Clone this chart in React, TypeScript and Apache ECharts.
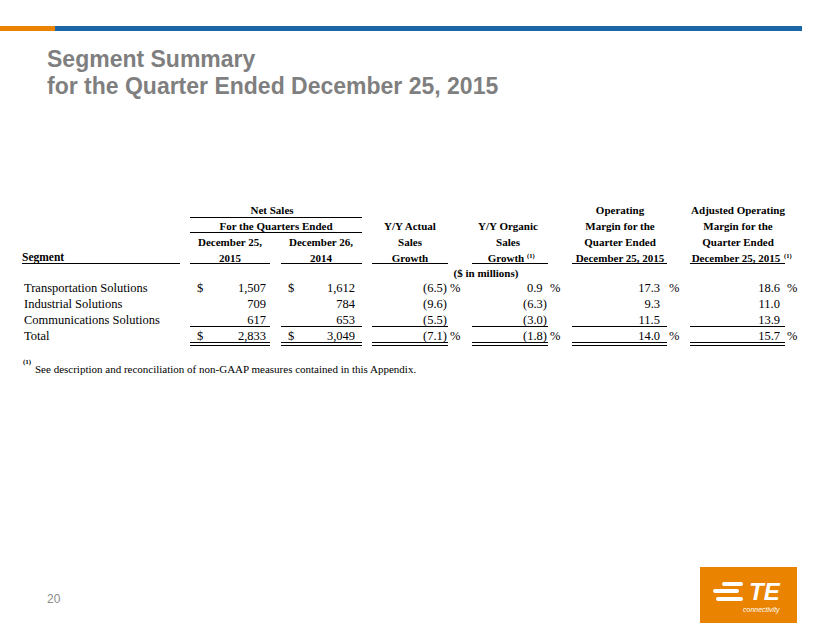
import React, { useEffect, useRef } from "react";
import * as echarts from "echarts";

// ---------- data ----------
const titleLines = ["Segment Summary", "for the Quarter Ended December 25, 2015"];
const pageNumber = "20";
const segments = ["Transportation Solutions", "Industrial Solutions", "Communications Solutions", "Total"];
const netSales2015 = [1507, 709, 617, 2833];
const netSales2014 = [1612, 784, 653, 3049];
const actualGrowth = [-6.5, -9.6, -5.5, -7.1];
const organicGrowth = [0.9, -6.3, -3.0, -1.8];
const operatingMargin = [17.3, 9.3, 11.5, 14.0];
const adjustedOperatingMargin = [18.6, 11.0, 13.9, 15.7];
const segmentHeader = "Segment";
const netSalesHeader = "Net Sales";
const quartersHeader = "For the Quarters Ended";
const unitsLabel = "($ in millions)";
const columnHeaders = [
  ["December 25,", "2015"],
  ["December 26,", "2014"],
  ["Y/Y Actual", "Sales", "Growth"],
  ["Y/Y Organic", "Sales", "Growth"],
  ["Operating", "Margin for the", "Quarter Ended", "December 25, 2015"],
  ["Adjusted Operating", "Margin for the", "Quarter Ended", "December 25, 2015"],
];
const columnFootnote = [false, false, false, true, false, true];
const footnoteMark = "(1)";
const footnoteText = "See description and reconciliation of non-GAAP measures contained in this Appendix.";
const logoText = "TE";
const logoSub = "connectivity";

// ---------- layout ----------
const SERIF = '"Liberation Serif", "Times New Roman", serif';
const SANS = '"Liberation Sans", Arial, sans-serif';
const ORANGE = "#E98300";
const BLUE = "#1a66a6";
const colLeft = [190, 281, 372, 472, 572, 690];
const colRight = [270, 362, 448, 548, 667, 785];
const headerCenter = [230, 321, 410, 508, 620, 738];
const lastHeaderCenter = [230, 321, 410, 506, 620, 736];
const supX = [0, 0, 0, 527, 0, 784];
const headerRowY = [210, 226, 242, 258];
const rowY = [288, 304, 320, 336];
const dollarX = [197, 288];
const numRight = [266, 355];
const pctNumRight = [447, 547, 660, 780];
const pctSignX = [450, 550, 669, 787];
const pctParenStyle = [true, true, false, false];

function fmtMoney(v: number) {
  return v.toLocaleString("en-US");
}

function buildGraphics() {
  const g: any[] = [];
  const text = (t: string, x: number, y: number, o: any = {}) => {
    const align = o.align || "left";
    g.push({
      type: "text",
      x,
      y,
      style: {
        text: t,
        fontSize: o.size || 12.5,
        fontFamily: o.family || SERIF,
        fontWeight: o.weight || "normal",
        fontStyle: o.style || "normal",
        fill: o.fill || "#000",
        align,
        textAlign: align,
        verticalAlign: "middle",
        textVerticalAlign: "middle",
      },
    });
  };
  const line = (x1: number, y: number, x2: number, w = 1) => {
    g.push({
      type: "line",
      shape: { x1, y1: y, x2, y2: y },
      style: { stroke: "#000", lineWidth: w },
    });
  };

  // top bar
  g.push({ type: "rect", shape: { x: 0, y: 26, width: 55, height: 5 }, style: { fill: ORANGE } });
  g.push({ type: "rect", shape: { x: 55, y: 26, width: 747, height: 5 }, style: { fill: BLUE } });

  // title
  titleLines.forEach((t, i) =>
    text(t, 47, 59 + i * 27, { size: 23, family: SANS, weight: "bold", fill: "#7f7f7f" })
  );

  // header
  const HB = { size: 11, weight: "bold" };
  text(segmentHeader, 22, 257, { size: 11.5, weight: "bold" });
  line(22, 263.5, 180);
  text(netSalesHeader, 272, headerRowY[0], { ...HB, align: "center" });
  line(190, 217.5, 362);
  text(quartersHeader, 276, headerRowY[1], { ...HB, align: "center" });
  line(190, 232.5, 362);
  columnHeaders.forEach((lines, c) => {
    const n = lines.length;
    lines.forEach((t, i) => {
      const y = headerRowY[4 - n + i];
      const x = i === n - 1 ? lastHeaderCenter[c] : headerCenter[c];
      text(t, x, y, { ...HB, align: "center" });
    });
    if (columnFootnote[c]) {
      text(footnoteMark, supX[c], headerRowY[3] - 3, { size: 6.5, weight: "bold" });
    }
    line(colLeft[c], 263.5, colRight[c]);
  });
  text(unitsLabel, 486, 273, { ...HB, align: "center" });

  // body
  const pctCols = [actualGrowth, organicGrowth, operatingMargin, adjustedOperatingMargin];
  segments.forEach((s, r) => {
    const y = rowY[r];
    text(s, 24, y);
    const showSign = r === 0 || r === segments.length - 1;
    if (showSign) {
      text("$", dollarX[0], y);
      text("$", dollarX[1], y);
    }
    text(fmtMoney(netSales2015[r]), numRight[0], y, { align: "right" });
    text(fmtMoney(netSales2014[r]), numRight[1], y, { align: "right" });
    pctCols.forEach((arr, c) => {
      const v = arr[r];
      const neg = v < 0;
      const t = neg ? `(${Math.abs(v).toFixed(1)})` : v.toFixed(1);
      const right = pctParenStyle[c] && !neg ? pctNumRight[c] - 4.5 : pctNumRight[c];
      text(t, right, y, { align: "right" });
      if (showSign) text("%", pctSignX[c], y);
    });
  });
  // subtotal / total rules
  colLeft.forEach((l, c) => {
    line(l, 326.5, colRight[c]);
    line(l, 342.5, colRight[c]);
    line(l, 345.5, colRight[c]);
  });

  // footnote
  text(footnoteMark, 23, 362, { size: 7, weight: "bold" });
  text(footnoteText, 35, 369, { size: 11 });

  // page number
  text(pageNumber, 47, 599, { size: 12, family: SANS, fill: "#8c8c8c" });

  // logo
  g.push({ type: "rect", shape: { x: 700, y: 567, width: 97, height: 56 }, style: { fill: ORANGE } });
  const bar = (x: number, y: number, w: number) =>
    g.push({ type: "rect", shape: { x, y, width: w, height: 4, r: 2 }, style: { fill: "#fff" } });
  bar(722, 582, 21);
  bar(713, 589, 26);
  bar(716, 597, 27);
  text(logoText, 749, 591, { size: 24, family: SANS, weight: "bold", style: "italic", fill: "#fff" });
  text(logoSub, 743, 609.5, { size: 7, family: SANS, style: "italic", fill: "#fff" });

  return g;
}

export default function App() {
  const ref = useRef<HTMLDivElement>(null);
  useEffect(() => {
    if (!ref.current) return;
    const chart = echarts.init(ref.current, null, { renderer: "svg" });
    chart.setOption({
      animation: false,
      backgroundColor: "#ffffff",
      graphic: { elements: buildGraphics() },
    });
    return () => chart.dispose();
  }, []);
  return (
    <div
      ref={ref}
      style={{ position: "fixed", left: 0, top: 0, width: 830, height: 623, background: "#fff" }}
    />
  );
}
